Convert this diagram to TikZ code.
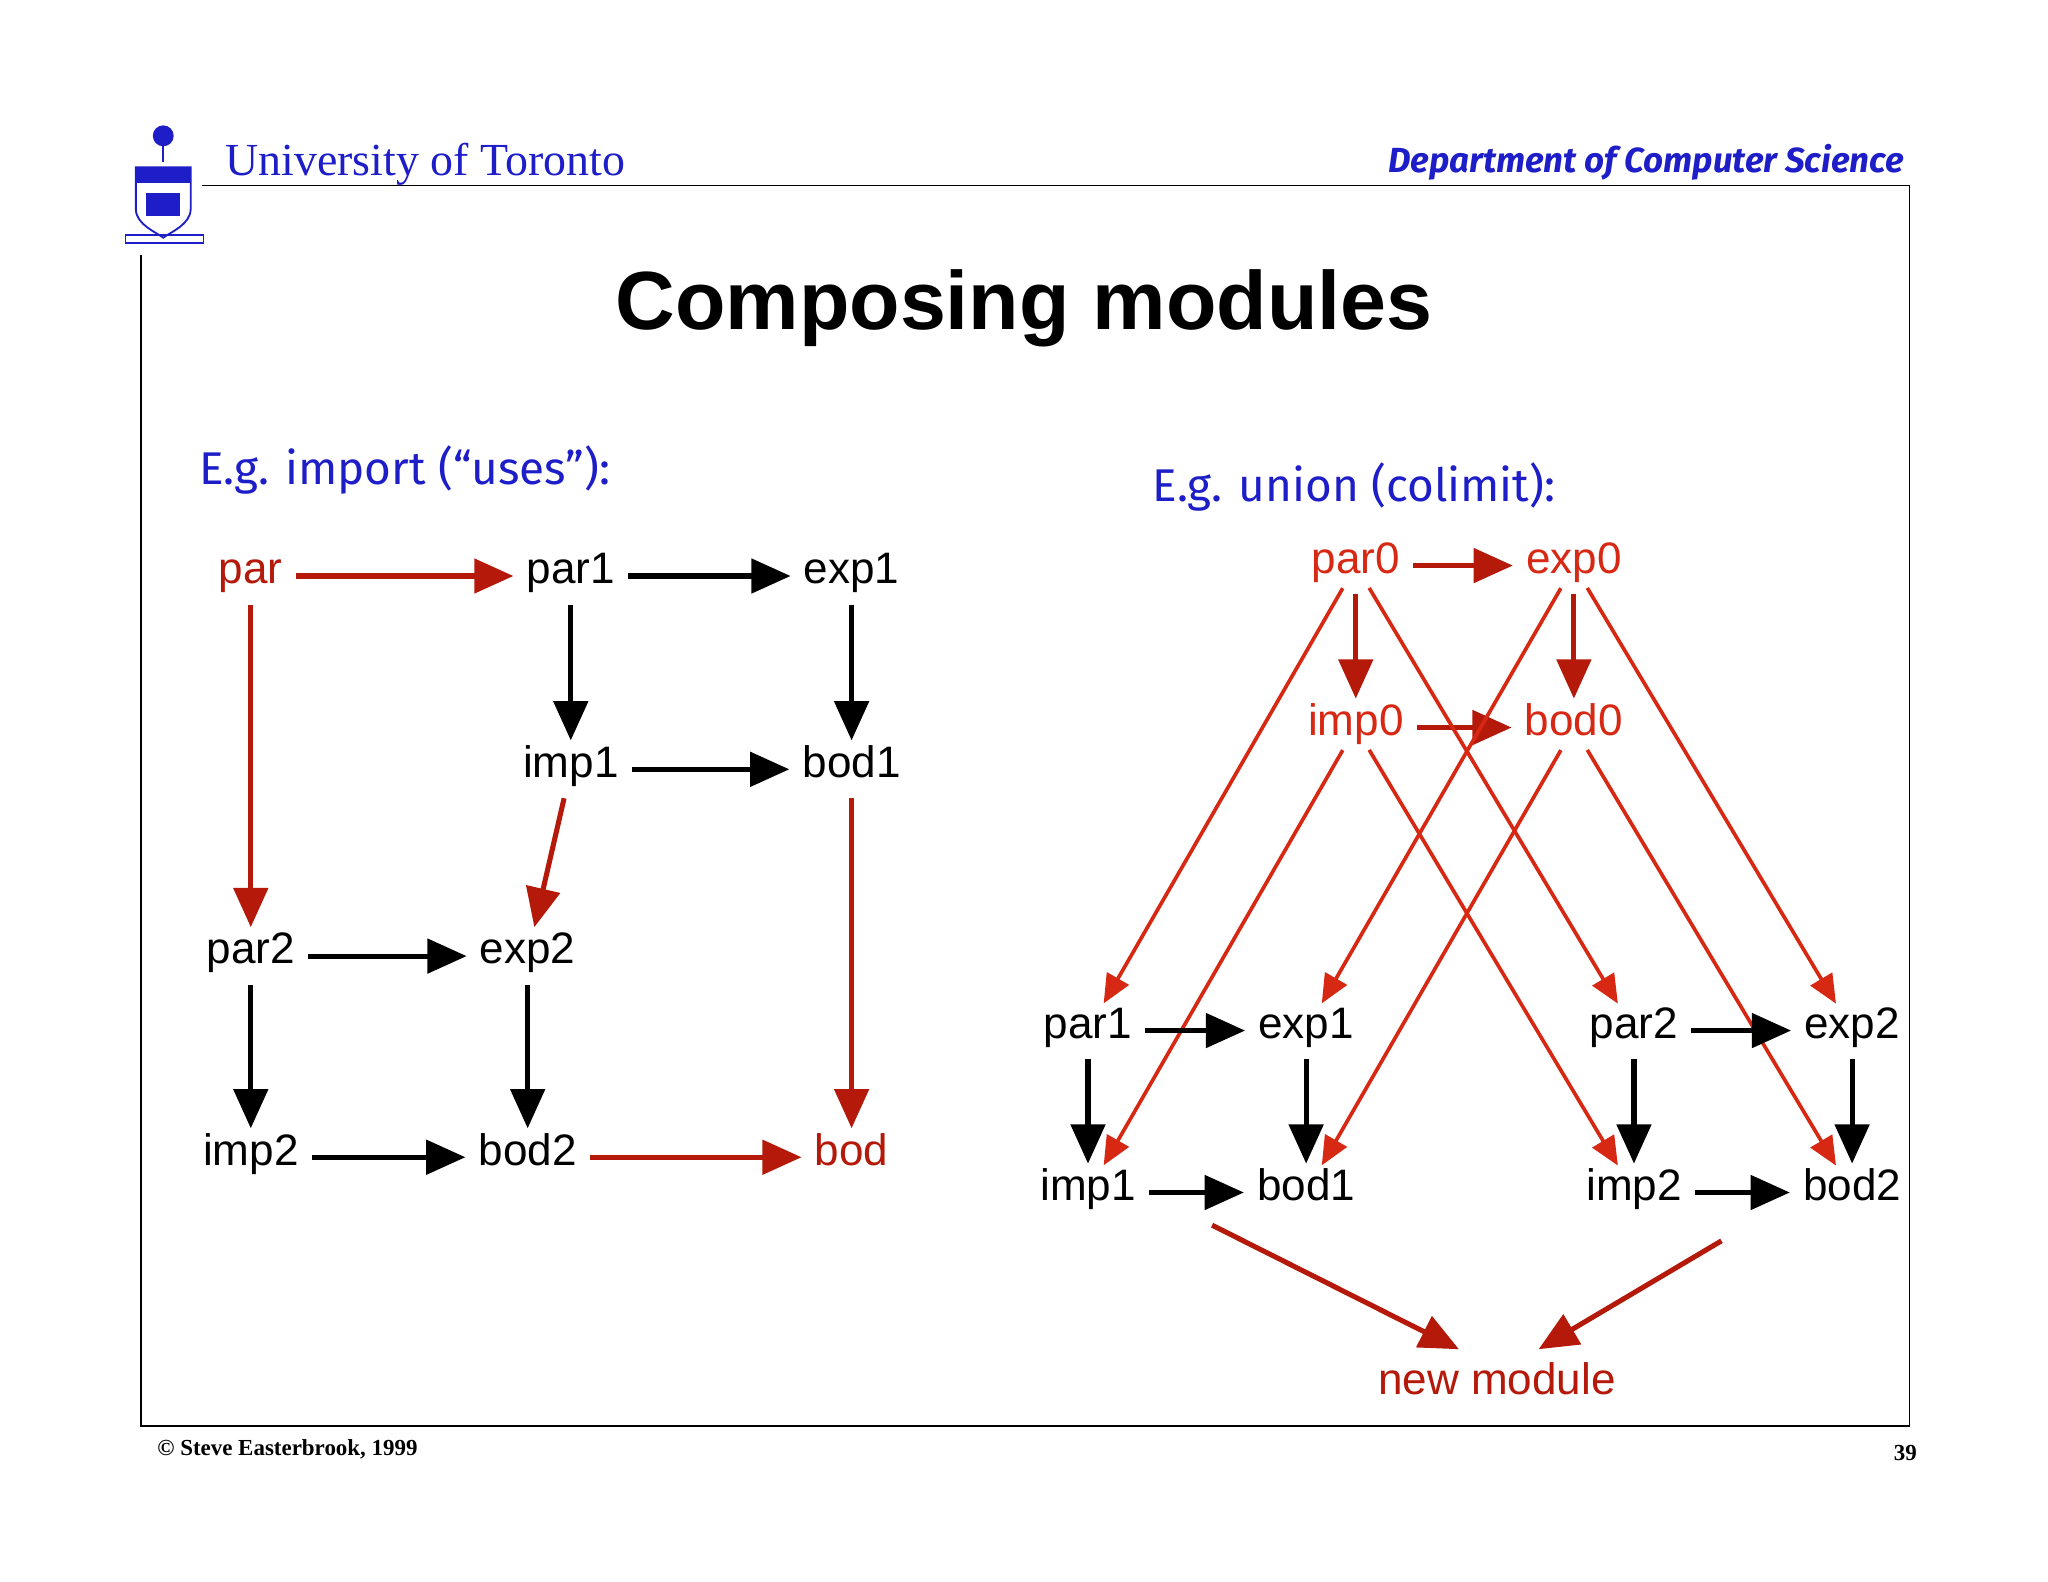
\documentclass[tikz,border=0pt]{standalone}
\usepackage{fontspec}
\setmainfont{Liberation Sans}
\newfontfamily\serifx{Liberation Serif}
\newfontfamily\handx{Fira Sans}
\usetikzlibrary{arrows.meta}
\definecolor{ured}{RGB}{180,25,10}
\definecolor{ublue}{RGB}{30,30,200}
\definecolor{lred}{RGB}{215,40,20}
\begin{document}
\begin{tikzpicture}[x=0.05cm,y=-0.05cm,
  n/.style={inner sep=0.5cm,text height=0.9cm,text depth=0.3cm,font=\fontsize{48}{52}\selectfont},
  rn/.style={n,text=ured},
  rn2/.style={n,text=lred},
  blk/.style={line width=5.5pt,-{Triangle[length=1.5cm,width=1.3cm]}},
  red/.style={blk,draw=ured},
  thin/.style={line width=4pt,draw=lred,-{Triangle[length=1.1cm,width=0.95cm]},shorten <=1cm,shorten >=1.2cm},
  hd/.style={font=\fontsize{50}{54}\selectfont\handx,text=ublue}]
\useasboundingbox[fill=white] (0,0) rectangle (1568,1211);
% header and frame
\draw[line width=2pt] (155,142) -- (1462,142) -- (1462,1092) -- (108,1092) -- (108,195);
\node[anchor=base west,font=\fontsize{50}{54}\serifx,text=ublue] (uni) at (170,134) {University of Toronto};
\node[anchor=base east,font=\fontsize{38}{42}\handx\bfseries\itshape,text=ublue] (dept) at (1460,132) {Department of Computer Science};
% logo
\draw[ublue,line width=2pt,fill=white] (104,128) -- (146,128) -- (146,160) .. controls (146,172) and (130,178) .. (125,182) .. controls (120,178) and (104,172) .. (104,160) -- cycle;
\fill[ublue] (104,128) rectangle (146,140);
\fill[ublue] (112,148) rectangle (138,165);
\fill[ublue] (125,104) circle (8);
\draw[ublue,line width=2pt] (125,112) -- (125,124);
\draw[ublue,line width=1.5pt] (96,180) rectangle (156,186);
% title
\node[font=\fontsize{90}{94}\selectfont\bfseries] (title) at (784,236) {Composing modules};
\node[hd,anchor=west] (eg1) at (150,360) {E.g. import (“uses”):};
\node[hd,anchor=west] (eg2) at (880,373) {E.g. union (colimit):};
% left diagram
\node[rn] (par) at (192,441) {par};
\node[n] (lpar1) at (437,441) {par1};
\node[n] (lexp1) at (652,441) {exp1};
\node[n] (limp1) at (437,589) {imp1};
\node[n] (lbod1) at (652,589) {bod1};
\node[n] (lpar2) at (192,732) {par2};
\node[n] (lexp2) at (404,732) {exp2};
\node[n] (limp2) at (192,886) {imp2};
\node[n] (lbod2) at (404,886) {bod2};
\node[rn] (bod) at (652,886) {bod};
\draw[red] (par) -- (lpar1);
\draw[red] (par) -- (lpar2);
\draw[red] (limp1) -- (lexp2);
\draw[red] (lbod1) -- (bod);
\draw[red] (lbod2) -- (bod);
\draw[blk] (lpar1) -- (lexp1);
\draw[blk] (lpar1) -- (limp1);
\draw[blk] (lexp1) -- (lbod1);
\draw[blk] (limp1) -- (lbod1);
\draw[blk] (lpar2) -- (lexp2);
\draw[blk] (lpar2) -- (limp2);
\draw[blk] (lexp2) -- (lbod2);
\draw[blk] (limp2) -- (lbod2);
% right diagram
\node[rn2] (par0) at (1038,433) {par0};
\node[rn2] (exp0) at (1205,433) {exp0};
\node[rn2] (imp0) at (1038,557) {imp0};
\node[rn2] (bod0) at (1205,557) {bod0};
\node[n] (rpar1) at (833,789) {par1};
\node[n] (rexp1) at (1000,789) {exp1};
\node[n] (rimp1) at (833,913) {imp1};
\node[n] (rbod1) at (1000,913) {bod1};
\node[n] (rpar2) at (1251,789) {par2};
\node[n] (rexp2) at (1418,789) {exp2};
\node[n] (rimp2) at (1251,913) {imp2};
\node[n] (rbod2) at (1418,913) {bod2};
\node[rn] (new) at (1146,1062) {new module};
\draw[red] (par0) -- (exp0);
\draw[red] (par0) -- (imp0);
\draw[red] (exp0) -- (bod0);
\draw[red] (imp0) -- (bod0);
\draw[thin] (par0.center) -- (rpar1.center);
\draw[thin] (par0.center) -- (rpar2.center);
\draw[thin] (exp0.center) -- (rexp1.center);
\draw[thin] (exp0.center) -- (rexp2.center);
\draw[thin] (imp0.center) -- (rimp1.center);
\draw[thin] (imp0.center) -- (rimp2.center);
\draw[thin] (bod0.center) -- (rbod1.center);
\draw[thin] (bod0.center) -- (rbod2.center);
\foreach \a/\b in {rpar1/rexp1,rpar1/rimp1,rexp1/rbod1,rimp1/rbod1,rpar2/rexp2,rpar2/rimp2,rexp2/rbod2,rimp2/rbod2}
  \draw[blk] (\a) -- (\b);
\coordinate (c1) at (928,938);
\coordinate (t1) at (1117,1033);
\coordinate (c2) at (1318,950);
\coordinate (t2) at (1178,1033);
\draw[red] (c1) -- (t1);
\draw[red] (c2) -- (t2);
% footer
\node[anchor=base west,font=\fontsize{25}{28}\serifx\bfseries] (copy) at (118,1114) {© Steve Easterbrook, 1999};
\node[anchor=base east,font=\fontsize{25}{28}\serifx\bfseries] (pg) at (1470,1118) {39};
\end{tikzpicture}
\end{document}
